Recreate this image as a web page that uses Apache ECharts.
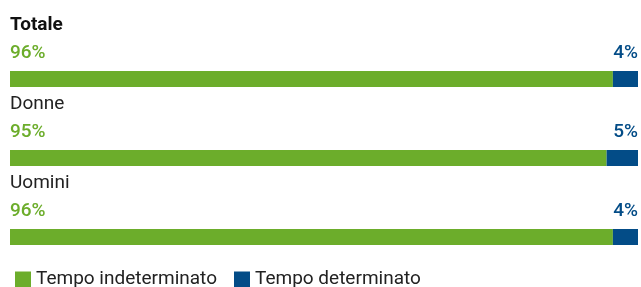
<!DOCTYPE html>
<html>
<head>
<meta charset="utf-8">
<script src="https://cdn.jsdelivr.net/npm/echarts@6/dist/echarts.min.js"></script>
<style>
html, body { margin: 0; padding: 0; background: #fff; }
#chart { width: 641px; height: 287px; }
</style>
</head>
<body>
<div id="chart"></div>
<script>
var categories = ['Totale', 'Donne', 'Uomini'];
var indeterminato = [96, 95, 96];
var determinato = [4, 5, 4];

var green = '#6cad2b';
var blue = '#034c87';
var font = 'Roboto';

var myChart = echarts.init(document.getElementById('chart'));
var option = {
    animation: false,
    textStyle: { fontFamily: font },
    legend: {
        left: 10,
        top: 265,
        icon: 'rect',
        itemWidth: 16,
        itemHeight: 16,
        itemGap: 17,
        textStyle: { fontSize: 19, color: '#222', fontFamily: font },
        data: ['Tempo indeterminato', 'Tempo determinato']
    },
    grid: { left: 10, right: 3, top: 39.5, height: 237 },
    xAxis: { type: 'value', min: 0, max: 100, show: false },
    yAxis: {
        type: 'category',
        inverse: true,
        data: categories,
        show: false
    },
    series: [
        {
            name: 'Tempo indeterminato',
            type: 'bar',
            stack: 'tot',
            barWidth: 16,
            itemStyle: { color: green },
            label: {
                show: true,
                position: [0, -4],
                align: 'left',
                verticalAlign: 'bottom',
                formatter: function (p) {
                    var style = p.dataIndex === 0 ? 'b' : 'n';
                    return '{' + style + '|' + p.name + '}\n{p|' + p.value + '%}';
                },
                rich: {
                    b: { fontSize: 19, fontWeight: 'bold', color: '#111', lineHeight: 28, fontFamily: font },
                    n: { fontSize: 19, color: '#222', lineHeight: 28, fontFamily: font },
                    p: { fontSize: 19, fontWeight: 500, color: green, lineHeight: 28, fontFamily: font }
                }
            },
            data: indeterminato
        },
        {
            name: 'Tempo determinato',
            type: 'bar',
            stack: 'tot',
            barWidth: 16,
            itemStyle: { color: blue },
            label: {
                show: true,
                position: ['100%', -4],
                align: 'right',
                verticalAlign: 'bottom',
                formatter: '{c}%',
                fontSize: 19,
                fontWeight: 500,
                color: blue,
                lineHeight: 28,
                fontFamily: font
            },
            data: determinato
        }
    ]
};
myChart.setOption(option);
</script>
</body>
</html>
